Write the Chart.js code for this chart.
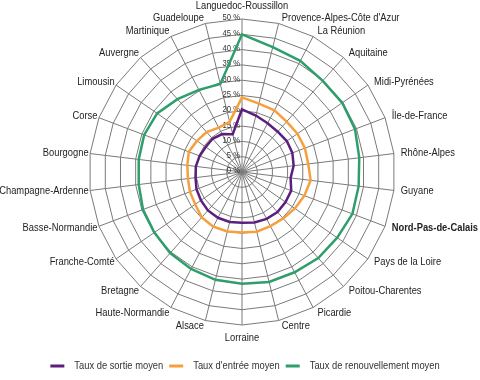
<!DOCTYPE html>
<html>
<head>
<meta charset="utf-8">
<script src="https://cdn.jsdelivr.net/npm/chart.js@4/dist/chart.umd.min.js"></script>
<style>
  html, body { margin: 0; padding: 0; background: #fff; }
  #wrap { width: 480px; height: 380px; position: relative; }
</style>
</head>
<body>
<div id="wrap"><canvas id="c"></canvas></div>
<script>
const categories = [
  "Languedoc-Roussillon", "Provence-Alpes-Côte d'Azur", "La Réunion", "Aquitaine",
  "Midi-Pyrénées", "Île-de-France", "Rhône-Alpes", "Guyane", "Nord-Pas-de-Calais",
  "Pays de la Loire", "Poitou-Charentes", "Picardie", "Centre", "Lorraine", "Alsace",
  "Haute-Normandie", "Bretagne", "Franche-Comté", "Basse-Normandie", "Champagne-Ardenne",
  "Bourgogne", "Corse", "Limousin", "Auvergne", "Martinique", "Guadeloupe"
];
const tauxSortie = [
  20.5, 19.0, 18.0, 17.6, 17.8, 17.6, 17.0, 16.0, 17.2,
  17.3, 17.5, 17.3, 17.0, 16.6, 16.8, 16.9, 16.8, 16.3, 15.9, 15.3,
  15.2, 14.8, 14.4, 14.5, 14.0, 12.7
];
const tauxEntree = [
  24.4, 23.0, 22.8, 22.0, 22.0, 22.0, 21.8, 22.6, 21.8,
  21.0, 20.3, 20.0, 20.1, 19.8, 20.0, 20.2, 19.8, 18.6, 18.2, 17.8,
  18.0, 18.6, 17.9, 17.4, 16.4, 16.9
];
const tauxRenouvellement = [
  45.0, 42.0, 41.0, 39.8, 39.8, 39.5, 38.6, 38.4, 38.6,
  37.8, 37.6, 37.0, 37.0, 36.5, 36.3, 35.8, 35.4, 34.8, 34.6, 34.0,
  34.0, 34.2, 33.7, 31.8, 30.3, 29.6
];
const seriesNames = ["Taux de sortie moyen", "Taux d'entrée moyen", "Taux de renouvellement moyen"];
const seriesColors = ["#5c1f7d", "#f5a03c", "#2e9e6b"];
const tickValues = [0, 5, 10, 15, 20, 25, 30, 35, 40, 45, 50];
const boldCategory = "Nord-Pas-de-Calais";

const FONT = "'Liberation Sans', Arial, sans-serif";
const SQUEEZE = 0.85; // narrow (condensed) look of the original font

function narrowText(ctx, text, x, y, align) {
  ctx.save();
  ctx.scale(SQUEEZE, 1);
  ctx.textAlign = align;
  ctx.fillText(text, x / SQUEEZE, y);
  ctx.restore();
}

const decorPlugin = {
  id: 'decor',
  beforeDatasetsDraw(chart) {
    const s = chart.scales.r;
    const ctx = chart.ctx;
    // tick labels, right-aligned left of the vertical axis
    ctx.save();
    ctx.font = "9px " + FONT;
    ctx.fillStyle = "#333";
    ctx.textBaseline = "middle";
    tickValues.forEach(v => {
      const d = s.getDistanceFromCenterForValue(v);
      narrowText(ctx, v + " %", s.xCenter - 2, s.yCenter - d - 1, "right");
    });
    ctx.restore();
  },
  afterDraw(chart) {
    const s = chart.scales.r;
    const ctx = chart.ctx;
    const n = chart.data.labels.length;
    // point labels
    ctx.save();
    ctx.fillStyle = "#222";
    ctx.textBaseline = "middle";
    chart.data.labels.forEach((lab, i) => {
      const tip = s.getPointPosition(i, s.drawingArea);
      const th = 2 * Math.PI * i / n;
      const sn = Math.sin(th), cs = Math.cos(th);
      ctx.font = (lab === boldCategory ? "bold " : "") + "11px " + FONT;
      if (Math.abs(sn) < 0.01) {
        const y = cs > 0 ? tip.y - 13 : tip.y + 13;
        narrowText(ctx, lab, tip.x, y, "center");
      } else if (sn > 0) {
        narrowText(ctx, lab, tip.x + 2 + 5 * sn, tip.y - 6 * cs, "left");
      } else {
        narrowText(ctx, lab, tip.x - 1.5, tip.y - 6 * cs, "right");
      }
    });
    ctx.restore();

    // legend
    ctx.save();
    ctx.font = "11px " + FONT;
    ctx.textBaseline = "middle";
    const items = chart.data.datasets.map(ds => ({
      text: ds.label, color: ds.borderColor,
      w: ctx.measureText(ds.label).width * SQUEEZE
    }));
    const markW = 14, markGap = 10, itemGap = 6;
    let total = 0;
    items.forEach((it, k) => { total += markW + markGap + it.w + (k < items.length - 1 ? itemGap : 0); });
    let x = 245 - total / 2;
    const y = 366;
    items.forEach(it => {
      ctx.fillStyle = it.color;
      ctx.fillRect(x, y - 1.5, markW, 3);
      x += markW + markGap;
      ctx.fillStyle = "#333";
      narrowText(ctx, it.text, x, y, "left");
      x += it.w + itemGap;
    });
    ctx.restore();
  }
};

const datasets = [tauxSortie, tauxEntree, tauxRenouvellement].map((arr, i) => ({
  label: seriesNames[i],
  data: arr,
  borderColor: seriesColors[i],
  backgroundColor: seriesColors[i],
  borderWidth: 2.5,
  fill: false,
  pointRadius: 0,
  pointHoverRadius: 0,
  tension: 0
}));

new Chart(document.getElementById('c'), {
  type: 'radar',
  data: { labels: categories, datasets },
  options: {
    responsive: true,
    maintainAspectRatio: false,
    animation: false,
    layout: { padding: { top: 19, bottom: 55, left: 4, right: 0 } },
    plugins: {
      tooltip: { enabled: false },
      legend: { display: false }
    },
    scales: {
      r: {
        min: 0,
        max: 50,
        ticks: { stepSize: 5, display: false },
        grid: { color: '#7a7a7a', lineWidth: 1 },
        angleLines: { color: '#7a7a7a', lineWidth: 1 },
        pointLabels: { display: false }
      }
    }
  },
  plugins: [decorPlugin]
});
</script>
</body>
</html>
